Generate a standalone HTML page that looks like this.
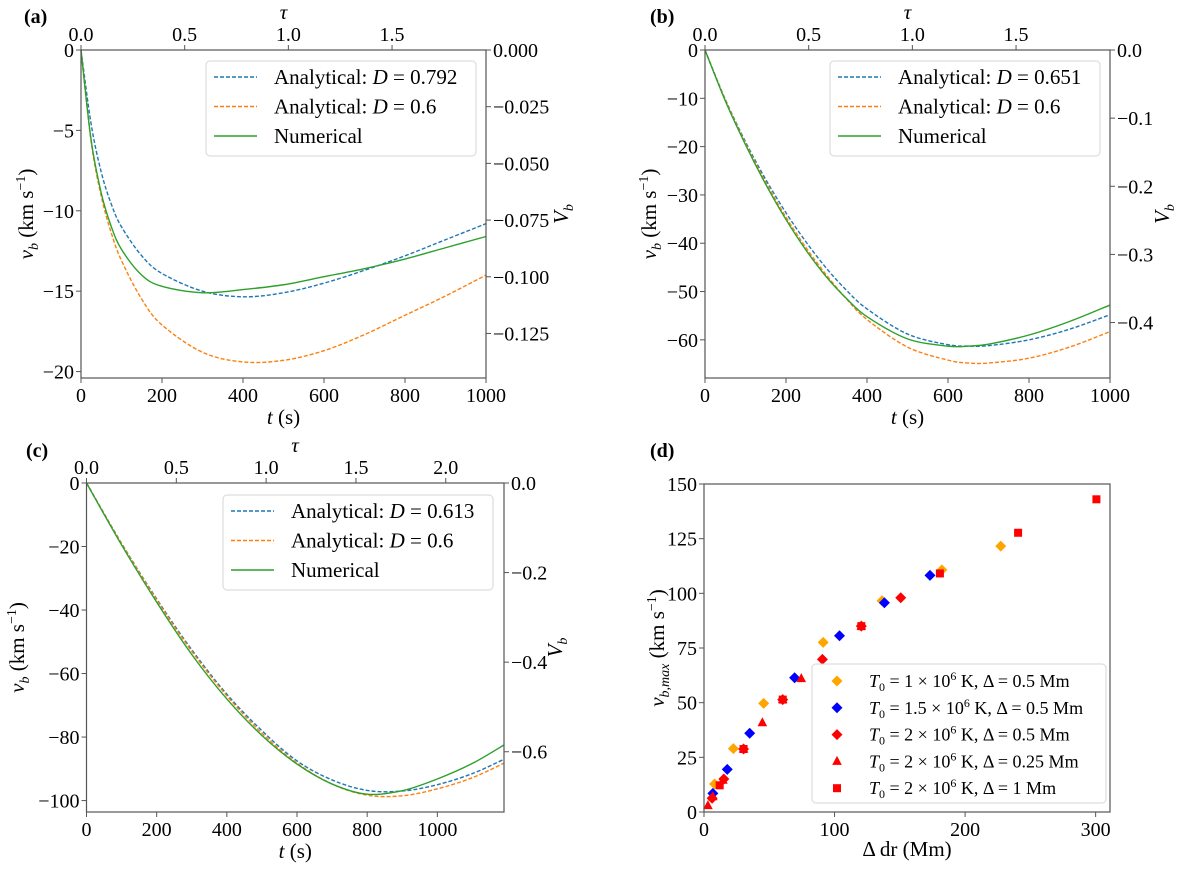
<!DOCTYPE html>
<html><head><meta charset="utf-8"><style>
html,body{margin:0;padding:0;background:#fff;}
svg{display:block;font-family:"Liberation Serif","DejaVu Serif",serif;}
</style></head><body>
<svg id="fig" width="1200" height="873" viewBox="0 0 1200 873" xmlns="http://www.w3.org/2000/svg"></svg>
<script>
// ---- Panel (a) data ----
const tA = [0,25,50,75,100,150,200,300,400,500,600,700,800,900,1000];
const blueA = [0,-4.6,-7.6,-9.6,-11.0,-12.8,-13.9,-15.0,-15.35,-15.1,-14.5,-13.7,-12.8,-11.8,-10.8];
const orangeA = [0,-5.7,-9.1,-11.4,-13.1,-15.5,-17.1,-18.8,-19.4,-19.3,-18.7,-17.7,-16.5,-15.3,-14.0];
const greenA = [0,-5.6,-8.9,-11.0,-12.4,-14.0,-14.7,-15.1,-14.9,-14.6,-14.1,-13.6,-13.0,-12.3,-11.6];
// ---- Panel (b) data ----
const tB = [0,50,100,150,200,250,300,350,400,500,600,650,700,800,900,1000];
const blueB = [0,-10.2,-19.0,-26.8,-33.7,-39.8,-45.2,-49.8,-53.6,-58.8,-61.0,-61.3,-61.2,-60.0,-57.8,-54.8];
const orangeB = [0,-10.3,-19.3,-27.4,-34.6,-41.0,-46.6,-51.6,-55.8,-61.5,-64.2,-64.8,-64.8,-63.8,-61.5,-58.3];
const greenB = [0,-10.5,-19.6,-27.8,-35.1,-41.5,-47.0,-51.5,-55.2,-59.8,-61.3,-61.3,-60.9,-59.0,-56.2,-52.8];
// ---- Panel (c) data ----
const tC = [0,100,200,300,400,500,600,700,800,900,1000,1100,1190];
const blueC = [0,-19.0,-36.5,-52.5,-66.5,-78.0,-87.5,-93.5,-96.8,-97.0,-95.0,-91.5,-87.0];
const orangeC = [0,-19.1,-36.8,-53.0,-67.0,-78.8,-88.2,-94.8,-98.3,-98.5,-96.3,-92.8,-88.2];
const greenC = [0,-19.5,-37.5,-54.0,-68.0,-79.5,-88.5,-94.8,-98.0,-96.9,-93.2,-88.3,-82.5];
// ---- Panel (d) data ----
const dOrangeX = [8.1,22.5,45.7,91.3,136.4,182.2,227.3];
const dOrangeY = [12.8,29,49.7,77.6,96.6,110.7,121.6];
const dBlueX = [6.8,17.8,35,69.4,103.8,138.2,173.1];
const dBlueY = [8.5,19.5,36,61.4,80.6,95.7,108.2];
const dRedX = [6.2,15.2,30.3,60.3,90.7,120.5,150.7];
const dRedY = [6.3,15.1,28.8,51.4,69.8,85,98];
const dTriX = [3,6.8,14.5,30.3,44.7,60.3,74.5,120.5];
const dTriY = [2.9,7,14.5,28.8,40.8,51.4,61,85];
const dSqX = [12,30.3,60.3,120.5,180.7,240.6,300.6];
const dSqY = [12.2,28.8,51.4,85,109.1,127.7,143];
// ticks
const tauTicksAB = [0,0.5,1.0,1.5];
const tauTicksC = [0,0.5,1.0,1.5,2.0];
const yTicksA = [0,-5,-10,-15,-20];
const yTicksB = [0,-10,-20,-30,-40,-50,-60];
const yTicksC = [0,-20,-40,-60,-80,-100];
const rTicksA = [0,-0.025,-0.05,-0.075,-0.1,-0.125];
const rLabelsA = ["0.000","\u22120.025","\u22120.050","\u22120.075","\u22120.100","\u22120.125"];
const rTicksB = [0,-0.1,-0.2,-0.3,-0.4];
const rLabelsB = ["0.0","\u22120.1","\u22120.2","\u22120.3","\u22120.4"];
const rTicksC = [0,-0.2,-0.4,-0.6];
const rLabelsC = ["0.0","\u22120.2","\u22120.4","\u22120.6"];
const tTicksAB = [0,200,400,600,800,1000];
const tTicksC = [0,200,400,600,800,1000];
const dXTicks = [0,100,200,300];
const dYTicks = [0,25,50,75,100,125,150];
const TAU_SCALE = 512;     // seconds per unit tau
const V_SCALE = 0.00709;   // V_b per km/s

const NS = "http://www.w3.org/2000/svg";
const svg = document.getElementById('fig');
function el(tag, attrs, parent){
  const e = document.createElementNS(NS, tag);
  for (const k in attrs) e.setAttribute(k, attrs[k]);
  (parent||svg).appendChild(e);
  return e;
}
function txt(str, attrs, parent){ const t = el('text', attrs, parent); t.textContent = str; return t; }
function fmt(v){ return (v<0?"\u2212":"")+Math.abs(v); }
function catmull(pts){
  let d = "M"+pts[0][0].toFixed(2)+","+pts[0][1].toFixed(2);
  for (let i=0;i<pts.length-1;i++){
    const p0=pts[Math.max(0,i-1)], p1=pts[i], p2=pts[i+1], p3=pts[Math.min(pts.length-1,i+2)];
    const c1=[p1[0]+(p2[0]-p0[0])/6, p1[1]+(p2[1]-p0[1])/6];
    const c2=[p2[0]-(p3[0]-p1[0])/6, p2[1]-(p3[1]-p1[1])/6];
    d += " C"+c1[0].toFixed(2)+","+c1[1].toFixed(2)+" "+c2[0].toFixed(2)+","+c2[1].toFixed(2)+" "+p2[0].toFixed(2)+","+p2[1].toFixed(2);
  }
  return d;
}
const AX = "#555";

function linePanel(cfg){
  const g = el('g', {});
  
  
  const sx = t => cfg.x0 + (t/cfg.tmax)*(cfg.x1-cfg.x0);
  const sy = v => cfg.y0 + ((cfg.vmax - v)/(cfg.vmax-cfg.vmin))*(cfg.y1-cfg.y0);
  const series = [[cfg.blue,'#1f77b4',true,'blue-analytical-curve'],[cfg.orange,'#ff7f0e',true,'orange-analytical-curve'],[cfg.green,'#2ca02c',false,'green-numerical-curve']];
  for (const s of series){
    const pts = cfg.t.map((t,i)=>[sx(t), sy(s[0][i])]);
    const p = el('path', {d:catmull(pts), fill:'none', stroke:s[1], 'stroke-width':1.4}, g);
    if (s[2]) p.setAttribute('stroke-dasharray','4,2');
    
    
  }
  const fr = el('rect', {x:cfg.x0, y:cfg.y0, width:cfg.x1-cfg.x0, height:cfg.y1-cfg.y0, fill:'none', stroke:AX, 'stroke-width':1.2}, g);
  
  
  for (const t of cfg.tTicks){
    const x = sx(t);
    el('line',{x1:x,x2:x,y1:cfg.y1,y2:cfg.y1+5,stroke:AX},g);
    const l = txt(String(t),{x:x,y:cfg.y1+24,'font-size':20,'text-anchor':'middle'},g);
    
    
  }
  for (const tau of cfg.tauTicks){
    const x = sx(tau*TAU_SCALE);
    el('line',{x1:x,x2:x,y1:cfg.y0,y2:cfg.y0-5,stroke:AX},g);
    const l = txt(tau.toFixed(1),{x:x,y:cfg.y0-9,'font-size':20,'text-anchor':'middle'},g);
    
    
  }
  for (const v of cfg.yTicks){
    const y = sy(v);
    el('line',{x1:cfg.x0,x2:cfg.x0-5,y1:y,y2:y,stroke:AX},g);
    const l = txt(fmt(v),{x:cfg.x0-7,y:y+7,'font-size':20,'text-anchor':'end'},g);
    
    
  }
  cfg.rTicks.forEach((V,i)=>{
    const y = sy(V/V_SCALE);
    el('line',{x1:cfg.x1,x2:cfg.x1+5,y1:y,y2:y,stroke:AX},g);
    const l = txt(cfg.rLabels[i],{x:cfg.x1+7,y:y+7,'font-size':20},g);
    
    
  });
  const cx = (cfg.x0+cfg.x1)/2, cy=(cfg.y0+cfg.y1)/2;
  const tt = txt('\u03C4',{x:cfg.tauX||cx,y:cfg.y0-31,'font-size':21,'font-style':'italic','text-anchor':'middle'},g);
  
  
  const xt = el('text',{x:cx,y:cfg.y1+46,'font-size':21,'text-anchor':'middle'},g);
  xt.innerHTML = '<tspan font-style="italic">t</tspan> (s)';
  
  
  const yt = el('text',{x:0,y:0,'font-size':21,'text-anchor':'middle',transform:`translate(${cfg.ylx},${cy}) rotate(-90)`},g);
  yt.innerHTML = '<tspan font-style="italic">v</tspan><tspan font-style="italic" font-size="14" dy="5">b</tspan><tspan dy="-5"> (km s</tspan><tspan font-size="14" dy="-8">\u22121</tspan><tspan dy="8">)</tspan>';
  
  
  const rt = el('text',{x:0,y:0,'font-size':21,'text-anchor':'middle',transform:`translate(${cfg.rlx},${cy}) rotate(-90)`},g);
  rt.innerHTML = '<tspan font-style="italic">V</tspan><tspan font-style="italic" font-size="14" dy="5">b</tspan>';
  
  
  const pl = txt(cfg.label,{x:cfg.lx,y:cfg.ly,'font-size':20,'font-weight':'bold'},g);
  
  
  const lg = el('g',{},g);
  
  
  el('rect',{x:cfg.lgx,y:cfg.lgy,width:270,height:95,rx:4,fill:'#fff','fill-opacity':0.85,stroke:'#d6d6d6'},lg);
  const entries = [['#1f77b4',true,'Analytical: ','<tspan font-style="italic">D</tspan> = '+cfg.D],['#ff7f0e',true,'Analytical: ','<tspan font-style="italic">D</tspan> = 0.6'],['#2ca02c',false,'Numerical','']];
  entries.forEach((e,i)=>{
    const y = cfg.lgy+16+i*29.5;
    const ln = el('line',{x1:cfg.lgx+8,x2:cfg.lgx+51,y1:y,y2:y,stroke:e[0],'stroke-width':1.4},lg);
    if (e[1]) ln.setAttribute('stroke-dasharray','4,2');
    const t = el('text',{x:cfg.lgx+68,y:y+7,'font-size':21},lg);
    t.innerHTML = e[2] + (e[3] ? ' '+e[3] : '');
    
    
  });
}

linePanel({name:'panel-a',label:'(a)',lx:24,ly:23,x0:81,x1:486,y0:50,y1:378,tmax:1000,vmin:-20.4,vmax:0,
  t:tA,blue:blueA,orange:orangeA,green:greenA,tTicks:tTicksAB,tauTicks:tauTicksAB,yTicks:yTicksA,rTicks:rTicksA,rLabels:rLabelsA,
  ylx:33,rlx:568,lgx:206,lgy:61,D:'0.792'});
linePanel({name:'panel-b',label:'(b)',lx:650,ly:23,x0:705,x1:1110,y0:50,y1:378,tmax:1000,vmin:-67.9,vmax:0,
  t:tB,blue:blueB,orange:orangeB,green:greenB,tTicks:tTicksAB,tauTicks:tauTicksAB,yTicks:yTicksB,rTicks:rTicksB,rLabels:rLabelsB,
  ylx:656,rlx:1169,lgx:830,lgy:61,D:'0.651'});
linePanel({name:'panel-c',label:'(c)',lx:26,ly:457,x0:86.5,x1:504,y0:483,y1:812,tmax:1190,vmin:-103.6,vmax:0,
  t:tC,blue:blueC,orange:orangeC,green:greenC,tTicks:tTicksC,tauTicks:tauTicksC,yTicks:yTicksC,rTicks:rTicksC,rLabels:rLabelsC,
  ylx:24,rlx:562,lgx:223,lgy:495,D:'0.613',tauX:295});

// ---- Panel (d) ----
(function(){
  const x0=704,x1=1110,y0=484,y1=812,xmax=311,ymax=150;
  const g = el('g',{});
  
  
  const sx = v => x0 + v/xmax*(x1-x0);
  const sy = v => y1 - v/ymax*(y1-y0);
  function diamond(x,y,c){ const s=5.5; return el('polygon',{points:`${x},${y-s} ${x+s},${y} ${x},${y+s} ${x-s},${y}`,fill:c},g); }
  dOrangeX.forEach((v,i)=>{ const p=diamond(sx(v),sy(dOrangeY[i]),'#ffa500');   });
  dBlueX.forEach((v,i)=>{ const p=diamond(sx(v),sy(dBlueY[i]),'#0000ff');   });
  dRedX.forEach((v,i)=>{ const p=diamond(sx(v),sy(dRedY[i]),'#ff0000');   });
  dTriX.forEach((v,i)=>{ const x=sx(v),y=sy(dTriY[i]); const p=el('polygon',{points:`${x},${y-5.5} ${x+4.8},${y+3.5} ${x-4.8},${y+3.5}`,fill:'#ff0000'},g);   });
  dSqX.forEach((v,i)=>{ const x=sx(v),y=sy(dSqY[i]); const p=el('rect',{x:x-4,y:y-4,width:8,height:8,fill:'#ff0000'},g);   });
  const fr = el('rect',{x:x0,y:y0,width:x1-x0,height:y1-y0,fill:'none',stroke:AX,'stroke-width':1.2},g);
  
  
  for (const v of dXTicks){ const x=sx(v); el('line',{x1:x,x2:x,y1:y1,y2:y1+5,stroke:AX},g);
    const l=txt(String(v),{x:x,y:y1+24,'font-size':20,'text-anchor':'middle'},g);   }
  for (const v of dYTicks){ const y=sy(v); el('line',{x1:x0,x2:x0-5,y1:y,y2:y,stroke:AX},g);
    const l=txt(String(v),{x:x0-7,y:y+7,'font-size':20,'text-anchor':'end'},g);   }
  const xt = el('text',{x:(x0+x1)/2,y:y1+44,'font-size':21,'text-anchor':'middle'},g);
  xt.innerHTML='\u0394 dr (Mm)';
  
  
  const yt = el('text',{x:0,y:0,'font-size':21,'text-anchor':'middle',transform:`translate(664,${(y0+y1)/2}) rotate(-90)`},g);
  yt.innerHTML='<tspan font-style="italic">v</tspan><tspan font-style="italic" font-size="14" dy="5">b,max</tspan><tspan dy="-5"> (km s</tspan><tspan font-size="14" dy="-8">\u22121</tspan><tspan dy="8">)</tspan>';
  
  
  const pl = txt('(d)',{x:650,y:457,'font-size':20,'font-weight':'bold'},g);
  
  
  const lg = el('g',{},g);
  
  
  el('rect',{x:812,y:664,width:294,height:139,rx:4,fill:'#fff','fill-opacity':0.85,stroke:'#d6d6d6'},lg);
  const labs = [['1','0.5'],['1.5','0.5'],['2','0.5'],['2','0.25'],['2','1']];
  const mk = ['od','bd','rd','rt','rs'];
  labs.forEach((L,i)=>{
    const y = 681+i*26.8, x=837;
    if (mk[i]==='od') el('polygon',{points:`${x},${y-5.5} ${x+5.5},${y} ${x},${y+5.5} ${x-5.5},${y}`,fill:'#ffa500'},lg);
    if (mk[i]==='bd') el('polygon',{points:`${x},${y-5.5} ${x+5.5},${y} ${x},${y+5.5} ${x-5.5},${y}`,fill:'#0000ff'},lg);
    if (mk[i]==='rd') el('polygon',{points:`${x},${y-5.5} ${x+5.5},${y} ${x},${y+5.5} ${x-5.5},${y}`,fill:'#ff0000'},lg);
    if (mk[i]==='rt') el('polygon',{points:`${x},${y-5.5} ${x+4.8},${y+3.5} ${x-4.8},${y+3.5}`,fill:'#ff0000'},lg);
    if (mk[i]==='rs') el('rect',{x:x-4,y:y-4,width:8,height:8,fill:'#ff0000'},lg);
    const t = el('text',{x:869,y:y+6,'font-size':18},lg);
    t.innerHTML = '<tspan font-style="italic">T</tspan><tspan font-size="12" dy="4">0</tspan><tspan dy="-4"> = '+L[0]+' \u00D7 10</tspan><tspan font-size="12" dy="-7">6</tspan><tspan dy="7"> K,  \u0394 = '+L[1]+' Mm</tspan>';
    
    
  });
})();
</script>
</body></html>
